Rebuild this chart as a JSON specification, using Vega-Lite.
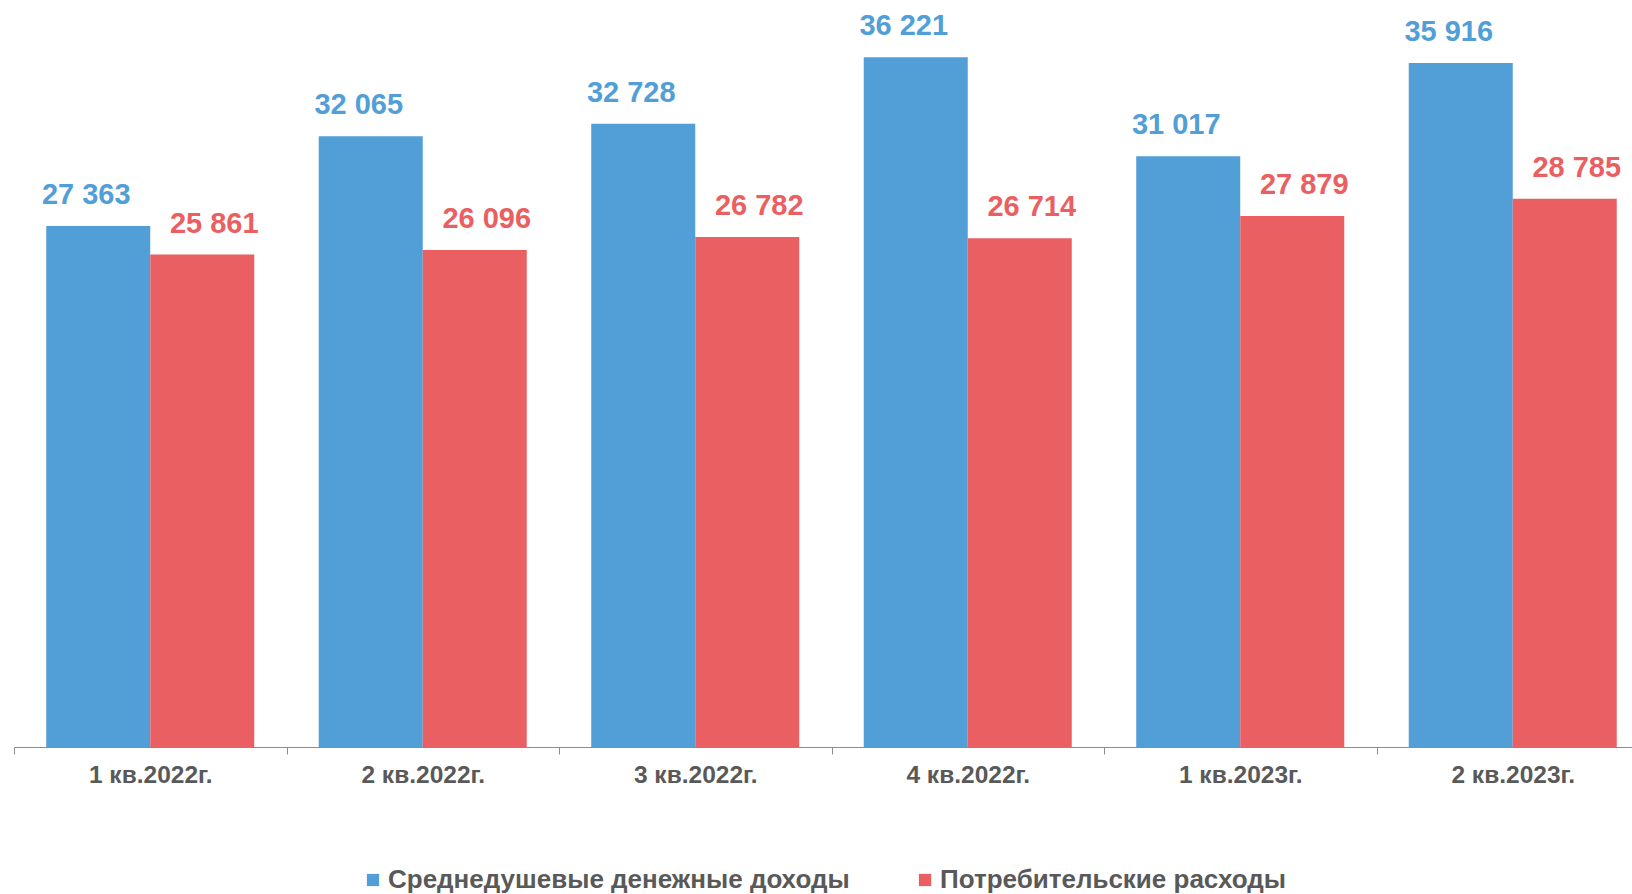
{
  "$schema": "https://vega.github.io/schema/vega-lite/v6.json",
  "autosize": "none",
  "width": 1617,
  "height": 737,
  "padding": {"left": 14, "top": 10, "right": 1, "bottom": 147},
  "background": "white",
  "config": {
    "view": {"stroke": null},
    "locale": {"number": {"decimal": ",", "thousands": " ", "grouping": [3], "currency": ["", ""]}}
  },
  "data": {
    "values": [
      {"q": "1 кв.2022г.", "s": "Среднедушевые денежные доходы", "v": 27363},
      {"q": "1 кв.2022г.", "s": "Потребительские расходы", "v": 25861},
      {"q": "2 кв.2022г.", "s": "Среднедушевые денежные доходы", "v": 32065},
      {"q": "2 кв.2022г.", "s": "Потребительские расходы", "v": 26096},
      {"q": "3 кв.2022г.", "s": "Среднедушевые денежные доходы", "v": 32728},
      {"q": "3 кв.2022г.", "s": "Потребительские расходы", "v": 26782},
      {"q": "4 кв.2022г.", "s": "Среднедушевые денежные доходы", "v": 36221},
      {"q": "4 кв.2022г.", "s": "Потребительские расходы", "v": 26714},
      {"q": "1 кв.2023г.", "s": "Среднедушевые денежные доходы", "v": 31017},
      {"q": "1 кв.2023г.", "s": "Потребительские расходы", "v": 27879},
      {"q": "2 кв.2023г.", "s": "Среднедушевые денежные доходы", "v": 35916},
      {"q": "2 кв.2023г.", "s": "Потребительские расходы", "v": 28785}
    ]
  },
  "encoding": {
    "x": {
      "field": "q", "type": "nominal", "sort": null, "title": null,
      "scale": {"paddingInner": 0, "paddingOuter": 0, "range": [0, 1635]},
      "axis": {
        "labelAngle": 0, "labelFont": "Liberation Sans", "labelFontWeight": "bold",
        "labelFontSize": 24.5, "labelColor": "#595959", "labelPadding": 9,
        "tickBand": "extent", "tickSize": 7, "tickColor": "#8c8c8c",
        "domainColor": "#8c8c8c", "domainWidth": 1.2, "grid": false
      }
    },
    "xOffset": {
      "field": "s", "type": "nominal",
      "sort": ["Среднедушевые денежные доходы", "Потребительские расходы"],
      "scale": {"paddingOuter": 0.31, "paddingInner": 0}
    },
    "y": {
      "field": "v", "type": "quantitative",
      "scale": {"domain": [0, 38700], "nice": false},
      "axis": null
    },
    "color": {
      "field": "s", "type": "nominal",
      "scale": {"domain": ["Среднедушевые денежные доходы", "Потребительские расходы"], "range": ["#529fd7", "#ea5f61"]},
      "legend": {
        "title": null, "orient": "none", "direction": "horizontal",
        "legendX": 346, "legendY": 857,
        "symbolType": "square", "symbolSize": 150, "symbolStrokeWidth": 0,
        "labelFont": "Liberation Sans", "labelFontWeight": "bold", "labelFontSize": 26,
        "labelColor": "#595959", "labelOffset": 2, "labelLimit": 0, "columnPadding": 62
      }
    }
  },
  "layer": [
    {"mark": {"type": "bar"}},
    {
      "transform": [{"filter": "datum.s === 'Среднедушевые денежные доходы'"}],
      "mark": {"type": "text", "dx": -12, "dy": -31, "baseline": "middle", "font": "Liberation Sans", "fontWeight": "bold", "fontSize": 29},
      "encoding": {"text": {"field": "v", "type": "quantitative", "format": ",d"}}
    },
    {
      "transform": [{"filter": "datum.s === 'Потребительские расходы'"}],
      "mark": {"type": "text", "dx": 12, "dy": -31, "baseline": "middle", "font": "Liberation Sans", "fontWeight": "bold", "fontSize": 29},
      "encoding": {"text": {"field": "v", "type": "quantitative", "format": ",d"}}
    }
  ]
}
